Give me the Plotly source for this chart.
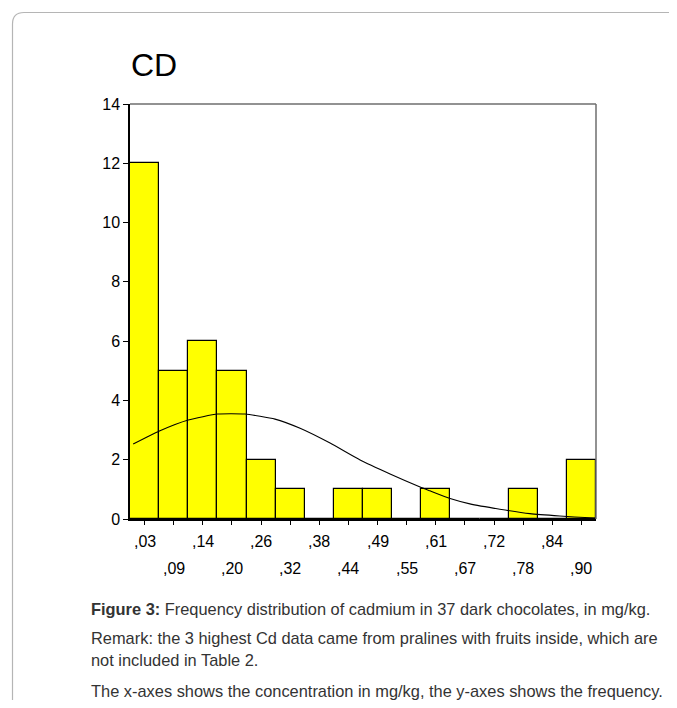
import plotly.graph_objects as go

# ---- data ----
bin_labels = [",03", ",09", ",14", ",20", ",26", ",32", ",38", ",44",
              ",49", ",55", ",61", ",67", ",72", ",78", ",84", ",90"]
frequency = [12, 5, 6, 5, 2, 1, 0, 1, 1, 0, 1, 0, 0, 1, 0, 2]

# normal curve, points (x in bin-index units)
curve_x = [-0.39, 0.51, 1.50, 2.51, 3.45, 4.48, 5.34, 6.37, 7.40,
           8.43, 9.46, 9.80, 10.49, 11.17, 12.20, 13.23, 14.26, 15.29, 15.5]
curve_y = [2.53, 2.97, 3.34, 3.54, 3.54, 3.37, 3.06, 2.56, 1.99,
           1.52, 1.08, 0.95, 0.69, 0.51, 0.33, 0.18, 0.10, 0.04, 0.03]

y_ticks = [0, 2, 4, 6, 8, 10, 12, 14]

title_text = "CD"
caption_lines = [
    "<b>Figure 3:</b> Frequency distribution of cadmium in 37 dark chocolates, in mg/kg.",
    "Remark: the 3 highest Cd data came from pralines with fruits inside, which are",
    "not included in Table 2.",
    "The x-axes shows the concentration in mg/kg, the y-axes shows the frequency.",
]

# ---- layout geometry (pixels, page coordinates; page body has 8px margin) ----
OFF = 8
W, H = 677 - 2 * OFF, 708 - 2 * OFF
L, R, T, B = 130, 596, 104, 519


def px(x):
    return (x - L) / (R - L)


def py(y):
    return (B - y) / (B - T)


FONT = "Liberation Sans, Arial, sans-serif"
idx = list(range(len(frequency)))

fig = go.Figure()
fig.add_trace(go.Bar(
    x=idx, y=frequency, width=1.0,
    marker=dict(color="#FFFF00", line=dict(color="#000000", width=1.2)),
    showlegend=False, hoverinfo="skip",
))
fig.add_trace(go.Scatter(
    x=curve_x, y=curve_y, mode="lines",
    line=dict(color="#000000", width=1.1, shape="spline", smoothing=0.5),
    showlegend=False, hoverinfo="skip", cliponaxis=False,
))

annotations = []
# x tick labels in two staggered rows
for i, lab in enumerate(bin_labels):
    row_y = 541 if i % 2 == 0 else 568
    annotations.append(dict(
        x=i, xref="x", y=py(row_y), yref="paper", text=lab, showarrow=False,
        xanchor="center", yanchor="middle",
        font=dict(family=FONT, size=16, color="#000000"),
    ))
# chart title
annotations.append(dict(
    x=px(129), y=py(65), xref="paper", yref="paper", text=title_text,
    showarrow=False, xanchor="left", yanchor="middle",
    font=dict(family=FONT, size=32, color="#000000"),
))
# caption
for text, yy in zip(caption_lines, [609, 638, 660, 691]):
    annotations.append(dict(
        x=px(89), y=py(yy), xref="paper", yref="paper", text=text,
        showarrow=False, xanchor="left", yanchor="middle",
        font=dict(family=FONT, size=16.4, color="#333333"),
    ))

shapes = [
    # gray top and right frame of plot area
    dict(type="line", xref="paper", yref="paper", x0=0, x1=1, y0=1, y1=1,
         line=dict(color="#6e6e6e", width=1.5)),
    dict(type="line", xref="paper", yref="paper", x0=1, x1=1, y0=0, y1=1,
         line=dict(color="#6e6e6e", width=1.5)),
    # rounded outer box
    dict(type="path", xref="paper", yref="paper",
         path=(f"M {px(12.5)},{py(730)} L {px(12.5)},{py(24)} "
               f"Q {px(12.5)},{py(12.5)} {px(24)},{py(12.5)} L {px(700)},{py(12.5)}"),
         line=dict(color="#b5b5b5", width=1.2)),
]

fig.update_layout(
    width=W, height=H,
    margin=dict(l=L - OFF, r=(W + OFF) - R, t=T - OFF, b=(H + OFF) - B, pad=0),
    paper_bgcolor="#ffffff", plot_bgcolor="#ffffff",
    bargap=0,
    font=dict(family=FONT, size=16, color="#000000"),
    xaxis=dict(
        range=[-0.5, 15.5], tickvals=idx, showticklabels=False,
        ticks="outside", ticklen=4, tickcolor="#000000", tickwidth=1,
        showline=True, linecolor="#000000", linewidth=1.5,
        showgrid=False, zeroline=False, fixedrange=True,
    ),
    yaxis=dict(
        range=[0, 14], tickvals=y_ticks,
        ticks="outside", ticklen=5, tickcolor="#000000", tickwidth=1,
        showline=True, linecolor="#000000", linewidth=1.5,
        showgrid=False, zeroline=False,
        tickfont=dict(family=FONT, size=16, color="#000000"),
    ),
    annotations=annotations,
    shapes=shapes,
)

fig.write_html("out.html")
